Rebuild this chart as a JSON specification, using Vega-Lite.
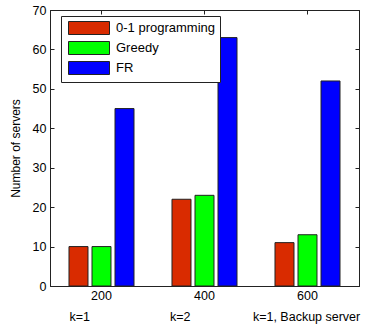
{
  "$schema": "https://vega.github.io/schema/vega-lite/v6.json",
  "width": 309,
  "height": 276,
  "autosize": "none",
  "padding": {"left": 50, "top": 10, "right": 10, "bottom": 40},
  "background": "white",
  "config": {
    "font": "Liberation Sans",
    "view": {"stroke": "#222", "strokeWidth": 1},
    "axis": {
      "grid": false,
      "domainColor": "#222",
      "tickColor": "#222",
      "tickSize": -4,
      "labelColor": "black",
      "titleColor": "black",
      "labelFontSize": 12.5,
      "titleFontSize": 12,
      "titleFontWeight": "normal",
      "labelFont": "Liberation Sans",
      "titleFont": "Liberation Sans"
    },
    "legend": {
      "orient": "none",
      "legendX": 11,
      "legendY": 6,
      "strokeColor": "#222",
      "fillColor": "white",
      "padding": 5,
      "symbolType": "M-1,-1H5.308V1H-1Z",
      "symbolSize": 169,
      "symbolStrokeColor": "#222",
      "symbolStrokeWidth": 1,
      "symbolOpacity": 1,
      "symbolOffset": 2,
      "labelFontSize": 13,
      "labelOffset": 34,
      "labelColor": "black",
      "labelFont": "Liberation Sans",
      "rowPadding": 2
    }
  },
  "data": {
    "values": [
      {"n": "200", "method": "0-1 programming", "servers": 10},
      {"n": "200", "method": "Greedy", "servers": 10},
      {"n": "200", "method": "FR", "servers": 45},
      {"n": "400", "method": "0-1 programming", "servers": 22},
      {"n": "400", "method": "Greedy", "servers": 23},
      {"n": "400", "method": "FR", "servers": 63},
      {"n": "600", "method": "0-1 programming", "servers": 11},
      {"n": "600", "method": "Greedy", "servers": 13},
      {"n": "600", "method": "FR", "servers": 52}
    ]
  },
  "layer": [
    {
      "mark": {"type": "bar", "stroke": "#222", "strokeWidth": 1},
      "encoding": {
        "x": {
          "field": "n",
          "type": "ordinal",
          "scale": {"paddingInner": 0, "paddingOuter": 0},
          "axis": {
            "orient": "bottom",
            "labelAngle": 0,
            "labelPadding": 7,
            "title": "k=1\u00a0\u00a0\u00a0\u00a0\u00a0\u00a0\u00a0\u00a0\u00a0\u00a0\u00a0\u00a0\u00a0\u00a0\u00a0\u00a0\u00a0\u00a0\u00a0\u00a0\u00a0\u00a0\u00a0k=2\u00a0\u00a0\u00a0\u00a0\u00a0\u00a0\u00a0\u00a0\u00a0\u00a0\u00a0\u00a0\u00a0\u00a0\u00a0\u00a0\u00a0\u00a0k=1,\u00a0Backup\u00a0server",
            "titleFontSize": 12.5,
            "titleX": 19,
            "titleY": 34,
            "titleAlign": "left",
            "titleBaseline": "alphabetic"
          }
        },
        "xOffset": {
          "field": "method",
          "type": "nominal",
          "scale": {"domain": ["0-1 programming", "Greedy", "FR"], "paddingInner": 0.174, "paddingOuter": 0.826}
        },
        "y": {
          "field": "servers",
          "type": "quantitative",
          "scale": {"domain": [0, 70], "nice": false},
          "axis": {
            "orient": "left",
            "values": [0, 10, 20, 30, 40, 50, 60, 70],
            "labelPadding": 8,
            "title": "Number of servers",
            "titleX": -35,
            "titleY": 138,
            "titleAngle": 270,
            "titleAlign": "center",
            "titleBaseline": "middle"
          }
        },
        "color": {
          "field": "method",
          "type": "nominal",
          "scale": {"domain": ["0-1 programming", "Greedy", "FR"], "range": ["#d92b00", "#00ff00", "#0000ff"]},
          "legend": {"title": null}
        }
      }
    },
    {
      "mark": {"type": "bar", "opacity": 0},
      "encoding": {
        "x": {"field": "n", "type": "ordinal", "axis": {"orient": "top", "labels": false, "title": null}},
        "y": {"field": "servers", "type": "quantitative", "axis": {"orient": "right", "labels": false, "title": null, "values": [0, 10, 20, 30, 40, 50, 60, 70]}}
      }
    }
  ],
  "resolve": {"axis": {"x": "independent", "y": "independent"}}
}
